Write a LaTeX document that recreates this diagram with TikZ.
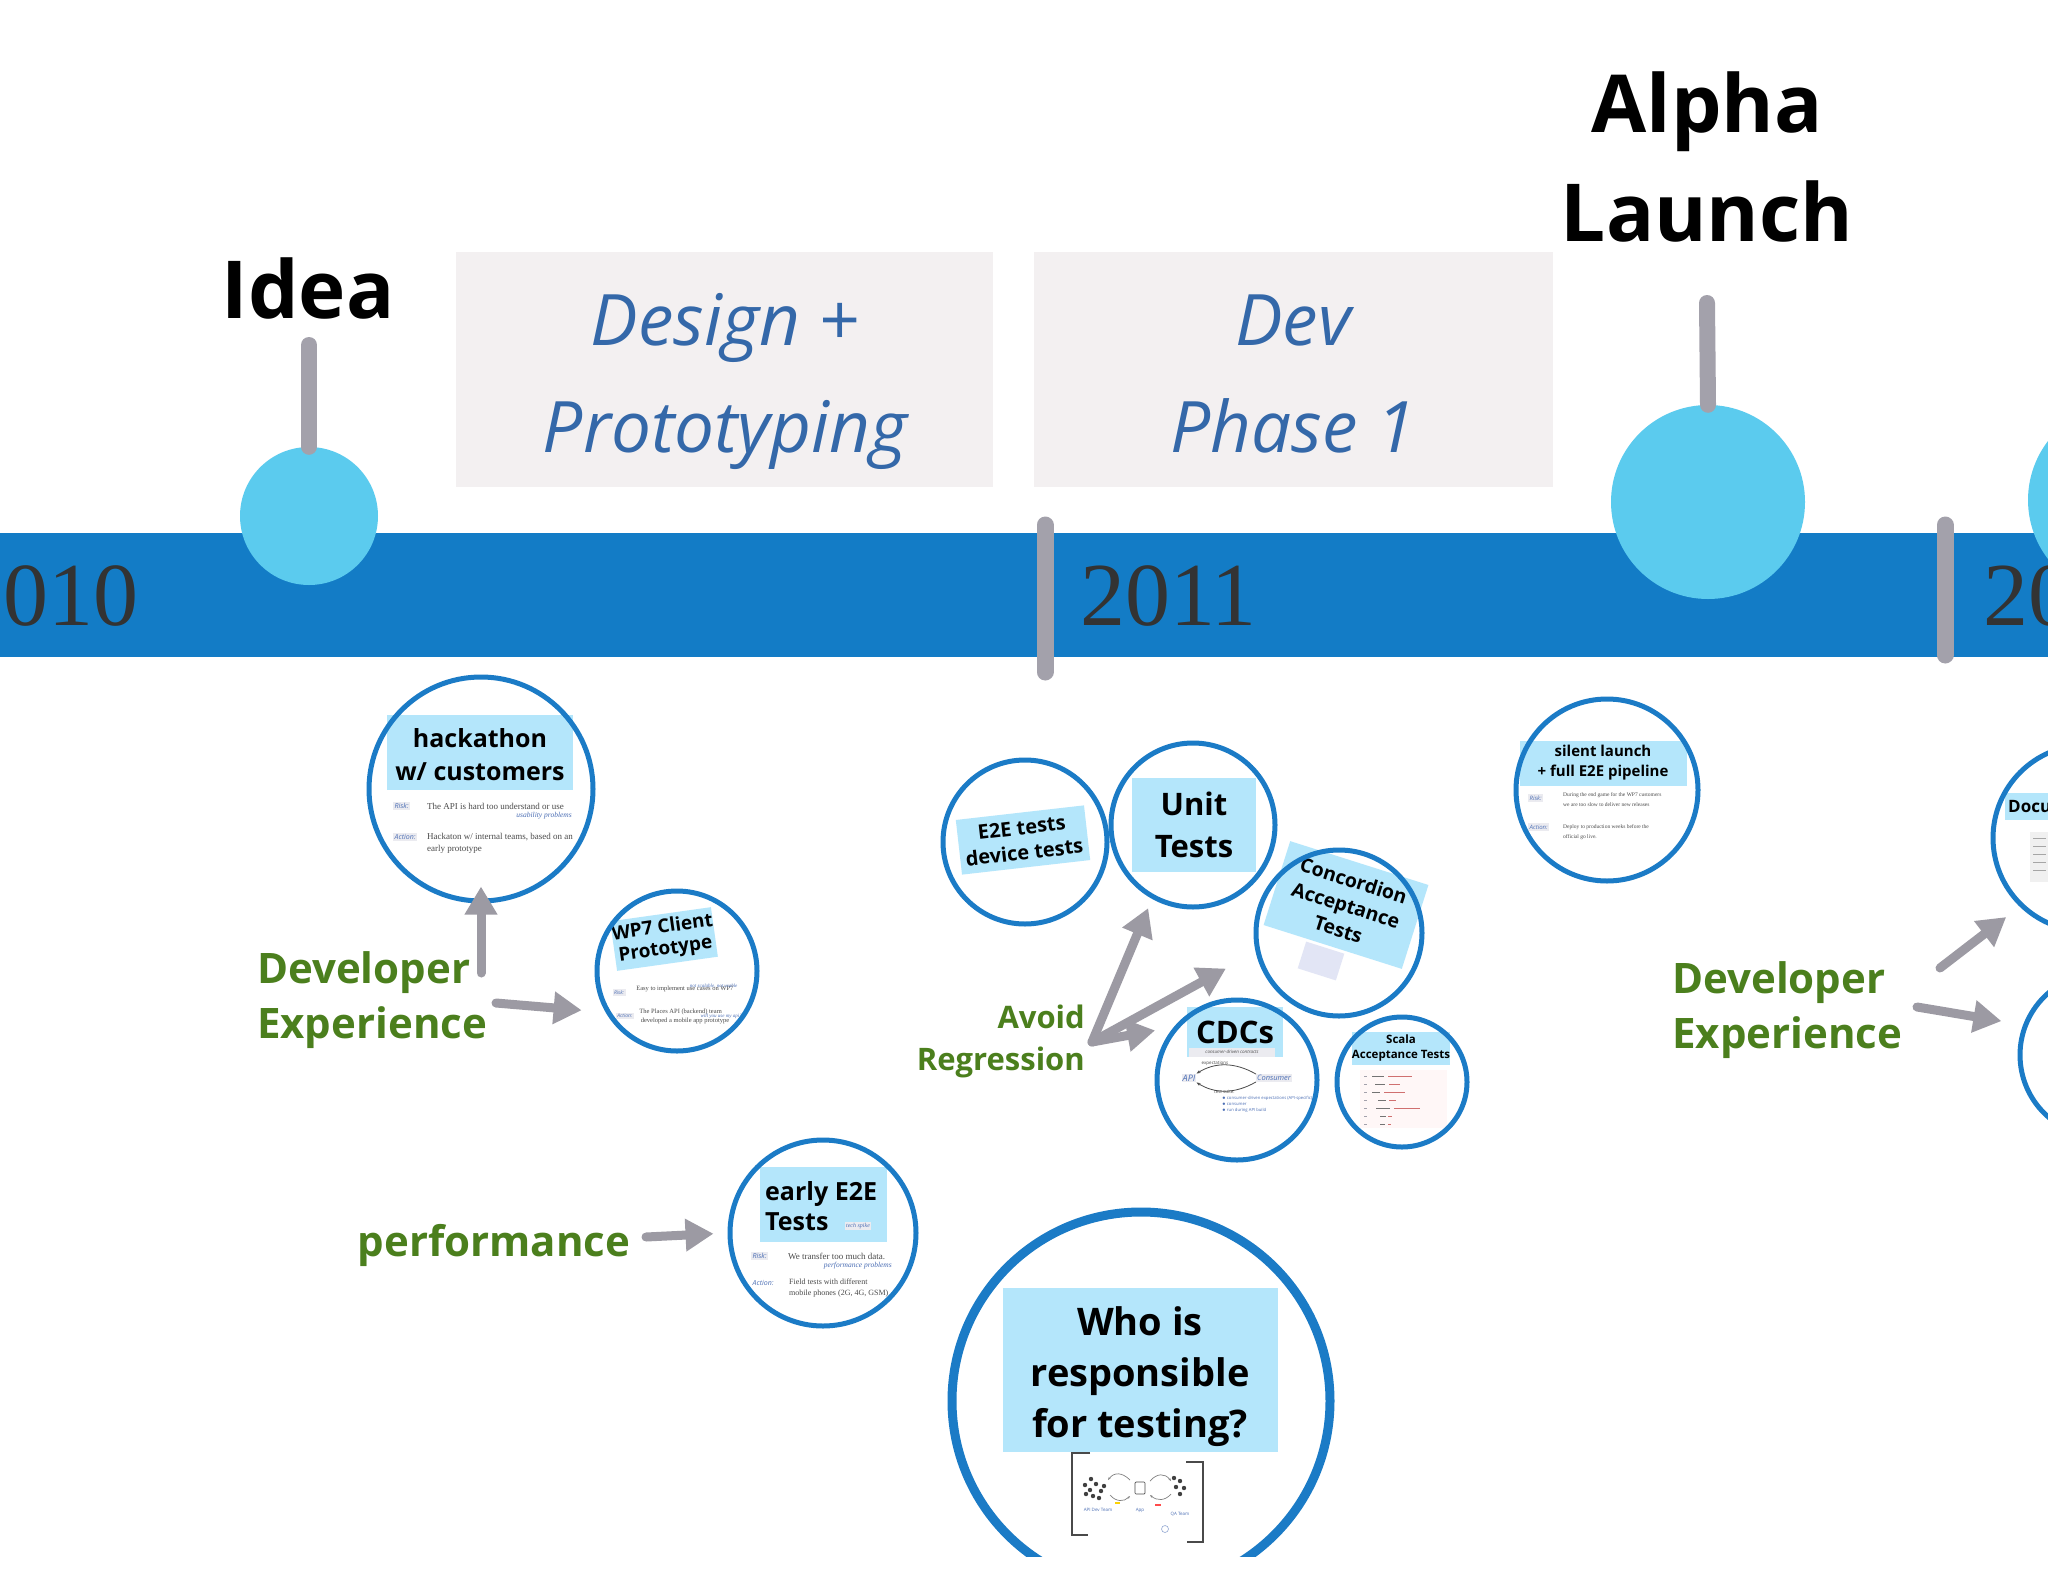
\documentclass[tikz,border=0pt]{standalone}
\usepackage{fontspec}
\setmainfont{Open Sans}
\newfontfamily\yrfont{Liberation Serif}
\usetikzlibrary{arrows.meta}
\newcommand\myfs[2]{\fontsize{#1}{#2}\selectfont}
\definecolor{barblue}{HTML}{137CC6}
\definecolor{cyanc}{HTML}{5BCBEE}
\definecolor{stemgray}{HTML}{A3A1AB}
\definecolor{arrgray}{HTML}{9C9AA3}
\definecolor{boxgray}{HTML}{F3F0F1}
\definecolor{ital}{HTML}{3468A9}
\definecolor{circblue}{HTML}{1B7BC6}
\definecolor{lblblue}{HTML}{B4E6FB}
\definecolor{greenc}{HTML}{4B7F1D}
\definecolor{yeartxt}{HTML}{333333}
\definecolor{smalltxt}{HTML}{4A4A4A}
\definecolor{smallblue}{HTML}{4C6FB5}
\definecolor{tagbg}{HTML}{EBEBF0}
\definecolor{lav}{HTML}{E2E5F5}
\definecolor{codered}{HTML}{D07070}
\tikzset{
  ring/.style={circle, draw=circblue, line width=5pt, inner sep=0pt},
  lbl/.style={fill=lblblue, inner sep=0pt, align=center, text=black},
  stemline/.style={draw=stemgray, line width=16pt, line cap=round},
  tickline/.style={draw=stemgray, line width=17pt, line cap=round},
  garrow/.style={draw=arrgray, line width=9pt, line cap=round, -{Triangle[length=28pt,width=31pt]}},
  greentxt/.style={text=greenc, inner sep=0pt, font=\bfseries\myfs{42}{55}},
  bigtxt/.style={inner sep=0pt, align=center, font=\bfseries\myfs{80}{109}},
  phasetxt/.style={inner sep=0pt, anchor=base, text=ital, font=\itshape\myfs{71}{107}},
  yeartext/.style={anchor=base west, inner sep=0pt, text=yeartxt, font=\yrfont\myfs{90}{90}},
  tiny/.style={anchor=west, inner sep=0pt, text=smalltxt, font=\yrfont\myfs{9}{11}},
  tinyb/.style={anchor=east, inner sep=0pt, text=smallblue, font=\yrfont\itshape\myfs{7.5}{9}},
  risktag/.style={anchor=west, fill=tagbg, text=smallblue, inner sep=1.5pt, font=\itshape\myfs{7}{8}},
}
\begin{document}
\begin{tikzpicture}[x=1pt,y=-1pt]
\clip (0,0) rectangle (2048,1582);
\fill[white] (0,0) rectangle (2048,1582);

% phase boxes
\node[fill=boxgray, minimum width=537pt, minimum height=235pt, inner sep=0pt] (designbox) at (724.5,369.5) {};
\node[phasetxt] (designtxt1) at (725,345) {Design +};
\node[phasetxt] (designtxt2) at (725,452) {Prototyping};
\node[fill=boxgray, minimum width=519pt, minimum height=235pt, inner sep=0pt] (devbox) at (1293.5,369.5) {};
\node[phasetxt] (devtxt1) at (1293,345) {Dev};
\node[phasetxt] (devtxt2) at (1293,452) {Phase 1};

% timeline bar
\fill[barblue] (0,533) rectangle (2048,657);
\node[yeartext] (y2010) at (3,625) {010};
\node[yeartext] (y2011) at (1080,625) {2011};
\node[yeartext] (y2012) at (1983,625) {20};

% milestones
\node[bigtxt] (ideatxt) at (308,288) {Idea};
\coordinate (ideatop) at (309,345);
\node[circle, fill=cyanc, minimum size=138pt, inner sep=0pt] (ideadot) at (309,516) {};
\draw[stemline] (ideatop) -- (ideadot.north);
\node[bigtxt] (alphatxt) at (1707,157) {Alpha\\Launch};
\coordinate (alphatop) at (1707,303);
\node[circle, fill=cyanc, minimum size=194pt, inner sep=0pt] (alphadot) at (1708,502) {};
\draw[stemline] (alphatop) -- (alphadot.north);
\node[circle, fill=cyanc, minimum size=194pt, inner sep=0pt] (nextdot) at (2125,500) {};

% year ticks
\coordinate (t1a) at (1045,525); \coordinate (t1b) at (1045,672);
\coordinate (t2a) at (1945,525); \coordinate (t2b) at (1945,655);
\draw[tickline] (t1a) -- (t1b);
\draw[tickline] (t2a) -- (t2b);

% ---------- hackathon ----------
\node[lbl, minimum width=186pt, minimum height=75pt] (hacklbl) at (480,752) {};
\node[inner sep=0pt, align=center, font=\bfseries\myfs{25}{33}] (hacktxt) at (480,755) {hackathon\\w/ customers};
\node[risktag] (hackrisk) at (393,806) {Risk:\hspace{6pt}};
\node[tiny] (hackr1) at (427,806) {The API is hard too understand or use};
\node[tinyb] (hackr2) at (572,816) {usability problems};
\node[risktag] (hackact) at (393,837) {Action:};
\node[tiny] (hacka1) at (427,837) {Hackaton w/ internal teams, based on an};
\node[tiny] (hacka2) at (427,849) {early prototype};
\node[ring, minimum size=224pt] (hack) at (481,789) {};

% ---------- WP7 ----------
\node[lbl, rotate=8, minimum width=98pt, minimum height=50pt, font=\bfseries\myfs{19}{22}] (wp7lbl) at (664,939) {WP7 Client\\Prototype};
\begin{scope}[rotate around={8:(677,971)}]
\node[risktag, font=\itshape\myfs{5}{6}] (wprisk) at (610,983) {Risk:\hspace{4pt}};
\node[tiny, font=\yrfont\myfs{6.5}{8}] (wpr1) at (634,983) {Easy to implement use cases on WP7};
\node[tinyb, font=\yrfont\itshape\myfs{5}{6}] (wpr2) at (735,994) {not scalable, not usable};
\node[risktag, font=\itshape\myfs{5}{6}] (wpact) at (610,1007) {Action:};
\node[tiny, font=\yrfont\myfs{6.5}{8}] (wpa1) at (634,1006) {The Places API (backend) team};
\node[tiny, font=\yrfont\myfs{6.5}{8}] (wpa2) at (634,1015) {developed a mobile app prototype};
\node[tinyb, font=\yrfont\itshape\myfs{5}{6}] (wpa3) at (735,1025) {will you use my api?};
\end{scope}
\node[ring, minimum size=160pt] (wp7) at (677,971) {};

% ---------- early E2E ----------
\node[lbl, minimum width=127pt, minimum height=75pt] (earlylbl) at (823.5,1204.5) {};
\node[anchor=west, inner sep=0pt, align=left, font=\bfseries\myfs{25}{30}] (earlytxt) at (765,1206) {early E2E\\Tests};
\node[fill=tagbg, inner sep=1.5pt, text=smallblue, font=\yrfont\itshape\myfs{6}{7}] (earlytag) at (858,1226) {tech spike};
\node[risktag] (earlyrisk) at (751,1256) {Risk:\hspace{6pt}};
\node[tiny] (earlyr1) at (788,1256) {We transfer too much data.};
\node[tinyb] (earlyr2) at (892,1266) {performance problems};
\node[risktag, fill=none] (earlyact) at (751,1283) {Action:};
\node[tiny, font=\yrfont\myfs{8}{10}] (earlya1) at (789,1282) {Field tests with different};
\node[tiny, font=\yrfont\myfs{8}{10}] (earlya2) at (789,1294) {mobile phones (2G, 4G, GSM)};
\node[ring, minimum size=186pt] (early) at (823,1233) {};

% ---------- E2E tests / Unit / Concordion ----------
\node[lbl, rotate=6.5, minimum width=129pt, minimum height=55pt, font=\bfseries\myfs{20}{25}] (e2elbl) at (1023,840) {E2E tests\\device tests};
\node[ring, minimum size=164pt] (e2e) at (1025,842) {};
\node[lbl, minimum width=124pt, minimum height=94pt, font=\bfseries\myfs{31}{42}] (unitlbl) at (1194,825) {Unit\\Tests};
\node[ring, minimum size=164pt] (unit) at (1193,825) {};
\node[lbl, rotate=-17.6, minimum width=145pt, minimum height=88pt, font=\bfseries\myfs{19.5}{25.5}] (conclbl) at (1346,905) {Concordion\\Acceptance\\Tests};
\node[fill=lav, rotate=-17.6, minimum width=40pt, minimum height=28pt, inner sep=0pt] (concimg) at (1321,961) {};
\node[ring, minimum size=166pt] (conc) at (1339,933) {};

% ---------- CDCs ----------
\node[lbl, minimum width=96pt, minimum height=50pt] (cdclbl) at (1235,1032) {};
\node[inner sep=0pt, font=\bfseries\myfs{31}{36}] (cdctxt) at (1235,1032) {CDCs};
\node[fill=tagbg, minimum width=86pt, minimum height=9pt, inner sep=0pt, text=smalltxt, font=\itshape\myfs{4.5}{5}] (cdcsub) at (1232,1052) {consumer-driven contracts};
\node[inner sep=0pt, text=smalltxt, font=\myfs{4.5}{5}] (cdcexp) at (1215,1063) {expectations};
\node[fill=tagbg, inner sep=1pt, text=smallblue, font=\itshape\myfs{9}{10}] (cdcapi) at (1189,1078) {API};
\node[fill=tagbg, inner sep=1pt, text=smallblue, font=\itshape\myfs{7.5}{9}] (cdccons) at (1274,1078) {Consumer};
\draw[draw=smalltxt, line width=0.8pt, -{Stealth[length=4pt]}] (cdccons.north west) .. controls (1235,1062) and (1215,1062) .. (cdcapi.north east);
\draw[draw=smalltxt, line width=0.8pt, -{Stealth[length=4pt]}] (cdccons.south west) .. controls (1235,1094) and (1215,1094) .. (cdcapi.south east);
\node[anchor=west, inner sep=0pt, text=smalltxt, font=\myfs{4.5}{6}] (cdcsuite) at (1214,1092) {test suite:};
\node[anchor=north west, inner sep=0pt, align=left, text=smallblue, font=\myfs{4.2}{6}] (cdcbul) at (1222,1096) {$\bullet$ consumer-driven expectations (API-specific)\\$\bullet$ consumer\\$\bullet$ run during API build};
\node[ring, minimum size=160pt] (cdc) at (1237,1080) {};

% ---------- Scala ----------
\node[lbl, minimum width=98pt, minimum height=33pt, font=\bfseries\myfs{11.5}{15}] (scalalbl) at (1401,1048) {Scala\\Acceptance Tests};
\node[fill=white!97!red, minimum width=87pt, minimum height=58pt, inner sep=0pt] (scalacode) at (1403.5,1099) {};
\foreach \yy/\la/\lb/\lc/\ld in {1076/1372/1384/1388/1412, 1084/1375/1385/1389/1400, 1092/1372/1380/1384/1405, 1100/1378/1386/1389/1396, 1108/1376/1390/1394/1420, 1116/1380/1386/1388/1392, 1124/1380/1385/1388/1391}{
  \draw[stemgray, line width=0.8pt] (1364,\yy) -- (1367,\yy);
  \draw[black!55, line width=1pt] (\la,\yy) -- (\lb,\yy);
  \draw[codered, line width=1pt] (\lc,\yy) -- (\ld,\yy);
}
\node[ring, minimum size=130pt] (scala) at (1402,1082) {};

% ---------- Who is responsible ----------
\node[lbl, minimum width=275pt, minimum height=164pt] (wholbl) at (1140,1370) {};
\node[inner sep=0pt, align=center, font=\bfseries\myfs{38}{51}] (whotxt) at (1140,1377) {Who is\\responsible\\for testing?};
\draw[draw=smalltxt, line width=2.5pt] (1090,1453) -- (1072,1453) -- (1072,1535) -- (1088,1535);
\draw[draw=smalltxt, line width=2.5pt] (1186,1462) -- (1203,1462) -- (1203,1542) -- (1187,1542);
\foreach \px/\py in {1085/1485,1090/1490,1096/1484,1101/1491,1093/1496,1086/1494,1099/1498,1104/1486,1091/1479,1180/1481,1176/1487,1184/1488,1180/1494,1174/1478}{
  \fill[black!75] (\px,\py) circle (2.2pt);
}
\draw[draw=smalltxt, line width=0.7pt, rounded corners=1pt, fill=white] (1135,1482) rectangle (1145,1494);
\draw[draw=black!50, line width=0.7pt, -{Stealth[length=3pt]}] (1130,1480) .. controls (1122,1472) and (1114,1472) .. (1108,1480);
\draw[draw=black!50, line width=0.7pt, -{Stealth[length=3pt]}] (1110,1495) .. controls (1116,1502) and (1124,1502) .. (1130,1496);
\draw[draw=black!50, line width=0.7pt, -{Stealth[length=3pt]}] (1150,1481) .. controls (1157,1473) and (1165,1473) .. (1171,1481);
\draw[draw=black!50, line width=0.7pt, -{Stealth[length=3pt]}] (1171,1494) .. controls (1165,1501) and (1157,1501) .. (1150,1495);
\fill[yellow!70!orange] (1115,1502) rectangle (1120,1504);
\fill[red!70] (1155,1504) rectangle (1161,1506);
\node[inner sep=0pt, text=smallblue, font=\myfs{4.5}{5}] (whoapi) at (1098,1510) {API Dev Team};
\node[inner sep=0pt, text=smallblue, font=\myfs{4.5}{5}] (whoapp) at (1140,1510) {App};
\node[inner sep=0pt, text=smallblue, font=\myfs{4.5}{5}] (whoqa) at (1180,1514) {QA Team};
\draw[draw=smallblue!60, line width=0.6pt] (1165,1529) circle (3.5pt);
\node[circle, draw=circblue, line width=9pt, inner sep=0pt, minimum size=378pt] (who) at (1141,1401) {};

% ---------- silent launch ----------
\node[lbl, minimum width=167pt, minimum height=45pt, font=\bfseries\myfs{15}{20}] (silentlbl) at (1603,763) {silent launch\\+ full E2E pipeline};
\node[risktag, font=\itshape\myfs{6}{7}] (silrisk) at (1528,798) {Risk:\hspace{6pt}};
\node[tiny, font=\yrfont\myfs{5.5}{7}] (silr1) at (1563,795) {During the end game for the WP7 customers};
\node[tiny, font=\yrfont\myfs{5.5}{7}] (silr2) at (1563,805) {we are too slow to deliver new releases};
\node[risktag, font=\itshape\myfs{6}{7}] (silact) at (1528,827) {Action:};
\node[tiny, font=\yrfont\myfs{5.5}{7}] (sila1) at (1563,827) {Deploy to production weeks before the};
\node[tiny, font=\yrfont\myfs{5.5}{7}] (sila2) at (1563,837) {official go live.};
\node[ring, minimum size=182pt] (silent) at (1607,790) {};

% ---------- right edge ----------
\node[lbl, minimum width=110pt, minimum height=27pt] (doculbl) at (2060,806.5) {};
\node[anchor=west, inner sep=0pt, font=\bfseries\myfs{17}{20}] (docutxt) at (2008,806) {Documentation};
\fill[black!6] (2030,832) rectangle (2048,882);
\foreach \yy in {838,846,854,862,870}{ \draw[black!35, line width=1pt] (2033,\yy) -- (2046,\yy); }
\node[ring, minimum size=186pt] (docu) at (2086,838) {};
\node[ring, minimum size=164pt] (nextc) at (2102,1055) {};

% ---------- green labels and arrows ----------
\node[greentxt, anchor=west, align=left] (devexpL) at (257,1000) {Developer\\Experience};
\node[greentxt, anchor=west, align=left] (devexpR) at (1672,1010) {Developer\\Experience};
\node[greentxt] (perf) at (494,1245) {performance};
\node[greentxt, anchor=east, align=right, font=\bfseries\myfs{31}{42}] (avoid) at (1085,1041) {Avoid\\Regression};

\coordinate (aL1) at (481,973);
\coordinate (aL2) at (496,1003);
\coordinate (aP) at (646,1237);
\coordinate (avo) at (1092,1042);
\coordinate (aR1) at (1940,968);
\coordinate (aR2) at (1917,1007);
\draw[garrow, shorten >=-17pt] (aL1) -- (hack.south);
\draw[garrow, shorten >=24pt] (aL2) -- (wp7.210);
\draw[garrow, shorten >=14pt] (aP) -- (early.west);
\draw[garrow, shorten >=10pt] (avo) -- (unit.241);
\draw[garrow, shorten >=34pt] (avo) -- (conc.193);
\draw[garrow, shorten >=19pt] (avo) -- (cdc.140);
\draw[garrow, shorten >=17pt] (aR1) -- (docu.226);
\draw[garrow, shorten >=22pt] (aR2) -- (nextc.159);

% bottom white band
\fill[white] (0,1557) rectangle (2048,1582);
\end{tikzpicture}
\end{document}
